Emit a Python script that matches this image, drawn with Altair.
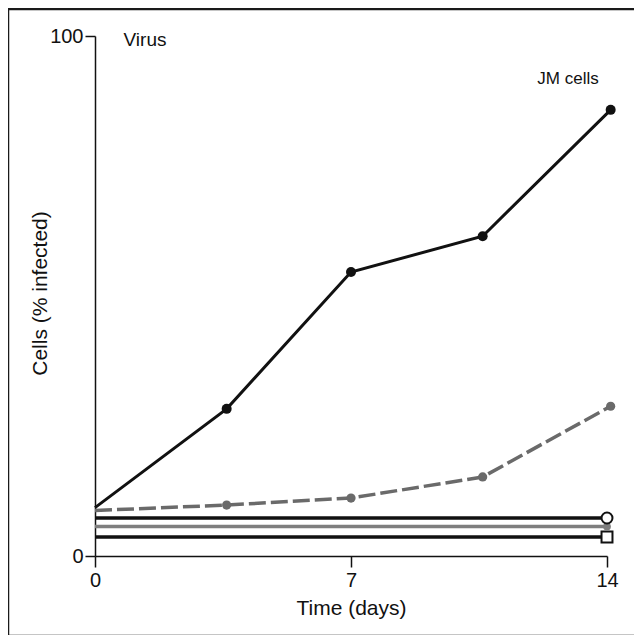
import altair as alt
import pandas as pd

# Data
jm_days = [0, 3.6, 7, 10.6, 14.1]
jm_vals = [9.3, 28.3, 54.6, 61.5, 85.8]

dash_days = [0, 3.6, 7, 10.6, 14.1]
dash_vals = [8.75, 9.8, 11.15, 15.2, 28.8]

flat_days = [0, 14]
flat_circle_vals = [7.3, 7.3]
flat_gray_vals = [5.65, 5.65]
flat_square_vals = [3.65, 3.65]

x_ticks = [0, 7, 14]
y_ticks = [0, 100]

FONT = "Liberation Sans"
LFS = 20
TFS = 21

jm = pd.DataFrame({"day": jm_days, "val": jm_vals})
dash = pd.DataFrame({"day": dash_days, "val": dash_vals})
fc = pd.DataFrame({"day": flat_days, "val": flat_circle_vals})
fg = pd.DataFrame({"day": flat_days, "val": flat_gray_vals})
fs = pd.DataFrame({"day": flat_days, "val": flat_square_vals})

xs = alt.Scale(domain=[0, 14], nice=False, zero=False)
ys = alt.Scale(domain=[0, 100], nice=False)

xenc = alt.X("day:Q", scale=xs, axis=alt.Axis(
    values=x_ticks, title="Time (days)", grid=False, tickSize=11, tickWidth=1.5,
    domainWidth=1.5, domainColor="#111", tickColor="#111", labelPadding=3,
    labelFontSize=LFS, labelFont=FONT, labelColor="#111",
    titleFontSize=TFS, titleFont=FONT, titleFontWeight="normal", titleColor="#111",
    titleY=52, titleBaseline="middle", labelFlush=False))
yenc = alt.Y("val:Q", scale=ys, axis=alt.Axis(
    values=y_ticks, title="Cells (% infected)", grid=False, tickSize=10, tickWidth=1.5,
    domainWidth=1.5, domainColor="#111", tickColor="#111", labelPadding=2,
    labelFontSize=LFS, labelFont=FONT, labelColor="#111",
    titleFontSize=TFS, titleFont=FONT, titleFontWeight="normal", titleColor="#111",
    titleX=-55, titleY=257, titleAngle=-90, titleAlign="center", titleBaseline="middle",
    labelFlush=False))

BLACK = "#111111"
GRAY = "#6a6a6a"
LGRAY = "#7e7e7e"

jm_line = alt.Chart(jm).mark_line(color=BLACK, strokeWidth=3).encode(x=xenc, y=yenc)
jm_pts = alt.Chart(jm[jm["day"] > 0]).mark_point(filled=True, color=BLACK, size=100, opacity=1).encode(x="day:Q", y="val:Q")

dash_line = alt.Chart(dash).mark_line(color=GRAY, strokeWidth=3.5, strokeDash=[17, 5]).encode(x="day:Q", y="val:Q")
dash_pts = alt.Chart(dash[dash["day"] > 0]).mark_point(filled=True, color=GRAY, size=85, opacity=1).encode(x="day:Q", y="val:Q")

fc_line = alt.Chart(fc).mark_line(color=BLACK, strokeWidth=3.5).encode(x="day:Q", y="val:Q")
fc_pt = alt.Chart(fc[fc["day"] > 0]).mark_point(shape="circle", filled=True, fill="white", stroke=BLACK, strokeWidth=2, size=120, opacity=1).encode(x="day:Q", y="val:Q")

fg_line = alt.Chart(fg).mark_line(color=LGRAY, strokeWidth=3.5).encode(x="day:Q", y="val:Q")
fg_pt = alt.Chart(fg[fg["day"] > 0]).mark_point(filled=True, color=LGRAY, size=60, opacity=1).encode(x="day:Q", y="val:Q")

fs_line = alt.Chart(fs).mark_line(color=BLACK, strokeWidth=3.5).encode(x="day:Q", y="val:Q")
fs_pt = alt.Chart(fs[fs["day"] > 0]).mark_point(shape="square", filled=True, fill="white", stroke=BLACK, strokeWidth=2, size=120, opacity=1).encode(x="day:Q", y="val:Q")

one = pd.DataFrame({"a": [0]})
frame = alt.Chart(one).mark_rect(fill="transparent", stroke="#1a1a1a", strokeWidth=2.5).encode(
    x=alt.value(-87), x2=alt.value(544), y=alt.value(-27), y2=alt.value(600))

virus = alt.Chart(one).mark_text(text="Virus", font=FONT, fontSize=19, color=BLACK, align="center", baseline="middle").encode(
    x=alt.value(50), y=alt.value(4))
jmtxt = alt.Chart(one).mark_text(text="JM cells", font=FONT, fontSize=17, color=BLACK, align="center", baseline="middle").encode(
    x=alt.value(473), y=alt.value(43))

chart = alt.layer(
    frame, fs_line, fg_line, fc_line, dash_line, jm_line,
    fs_pt, fg_pt, fc_pt, dash_pts, jm_pts, virus, jmtxt
).properties(
    width=512, height=520,
    autosize=alt.AutoSizeParams(type="none"),
    padding={"left": 87, "top": 28, "right": 27, "bottom": 79},
    background="white",
).configure_view(strokeOpacity=0)

chart.save("out.html", embed_options={"renderer": "svg", "actions": False})
